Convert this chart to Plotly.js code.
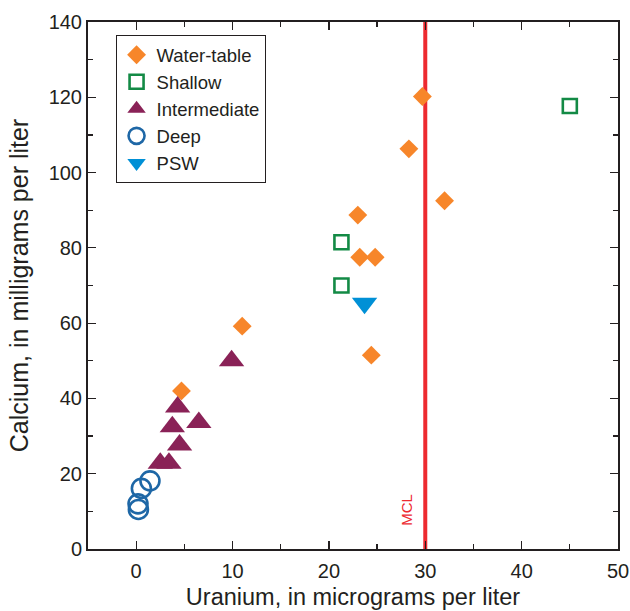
<!DOCTYPE html>
<html>
<head>
<meta charset="utf-8">
<script src="https://cdn.plot.ly/plotly-3.0.1.min.js"></script>
<style>html,body{margin:0;padding:0;background:#fff;}#chart{width:630px;height:611px;}</style>
</head>
<body>
<div id="chart"></div>
<script>
// Data
const waterTableX = [4.7, 11.0, 23.0, 23.2, 24.8, 24.4, 28.3, 29.7, 32.0];
const waterTableY = [42.0, 59.2, 88.7, 77.5, 77.5, 51.5, 106.3, 120.2, 92.5];
const shallowX = [21.3, 21.3, 45.0];
const shallowY = [81.5, 70.0, 117.7];
const intermediateX = [9.9, 4.3, 6.5, 3.75, 4.5, 2.5, 3.4];
const intermediateY = [50.0, 37.7, 33.6, 32.5, 27.6, 22.8, 22.8];
const deepX = [1.43, 0.54, 0.19, 0.23];
const deepY = [18.1, 16.1, 12.0, 10.5];
const pswX = [23.7];
const pswY = [65.3];
const mclValue = 30;
const xTickVals = [0, 10, 20, 30, 40, 50];
const yTickVals = [0, 20, 40, 60, 80, 100, 120, 140];

const textColor = '#231f20';
const fontFam = '"Liberation Sans", Arial, Helvetica, sans-serif';

const traces = [
  {x: waterTableX, y: waterTableY, name: 'Water-table', type: 'scatter', mode: 'markers',
   marker: {symbol: 'diamond', size: 14.5, color: '#f7862a', line: {width: 0}}},
  {x: shallowX, y: shallowY, name: 'Shallow', type: 'scatter', mode: 'markers',
   marker: {symbol: 'square-open', size: 14, color: '#138a45', line: {width: 2.6, color: '#138a45'}}},
  {x: intermediateX, y: intermediateY, name: 'Intermediate', type: 'scatter', mode: 'markers',
   marker: {symbol: 'triangle-up', size: 22, color: '#8a2257', line: {width: 0}}},
  {x: deepX, y: deepY, name: 'Deep', type: 'scatter', mode: 'markers',
   marker: {symbol: 'circle-open', size: 19, color: '#1e67a6', line: {width: 2.6, color: '#1e67a6'}}},
  {x: pswX, y: pswY, name: 'PSW', type: 'scatter', mode: 'markers',
   marker: {symbol: 'triangle-down', size: 22, color: '#0090d6', line: {width: 0}}}
];

const axisCommon = {
  showline: true, linecolor: textColor, linewidth: 2, mirror: 'ticks',
  ticks: 'inside', ticklen: 8, tickwidth: 1.2, tickcolor: textColor,
  showgrid: false, zeroline: false,
  tickfont: {family: fontFam, size: 20, color: textColor}
};

const layout = {
  width: 630, height: 611,
  margin: {l: 88, r: 12, t: 22, b: 62},
  paper_bgcolor: '#ffffff', plot_bgcolor: '#ffffff',
  font: {family: fontFam, color: textColor},
  showlegend: true,
  legend: {x: 0.052, y: 0.975, xanchor: 'left', yanchor: 'top',
    bordercolor: textColor, borderwidth: 1, bgcolor: '#ffffff',
    font: {family: fontFam, size: 18.5, color: textColor}, itemsizing: 'trace', tracegroupgap: 0},
  xaxis: Object.assign({}, axisCommon, {
    range: [-5, 50], tickvals: xTickVals, ticklabelstandoff: 3,
    minor: {dtick: 5, tick0: 0, ticks: 'inside', ticklen: 5, tickwidth: 1.2, tickcolor: textColor},
    title: {text: 'Uranium, in micrograms per liter', font: {family: fontFam, size: 23.5, color: textColor}, standoff: 8}
  }),
  yaxis: Object.assign({}, axisCommon, {
    range: [0, 140], tickvals: yTickVals,
    minor: {dtick: 10, tick0: 0, ticks: 'inside', ticklen: 5, tickwidth: 1.2, tickcolor: textColor},
    title: {text: 'Calcium, in milligrams per liter', font: {family: fontFam, size: 25, color: textColor}, standoff: 13}
  }),
  shapes: [
    {type: 'line', xref: 'x', yref: 'y', x0: mclValue, x1: mclValue, y0: 0, y1: 140,
     line: {color: '#ed2a30', width: 4}, layer: 'below'}
  ],
  annotations: [
    {xref: 'x', yref: 'y', x: mclValue, y: 10.5, text: 'MCL', showarrow: false,
     textangle: -90, xshift: -19, font: {family: fontFam, size: 15, color: '#ed2a30'}}
  ]
};

Plotly.newPlot('chart', traces, layout, {displayModeBar: false, staticPlot: true});
</script>
</body>
</html>
